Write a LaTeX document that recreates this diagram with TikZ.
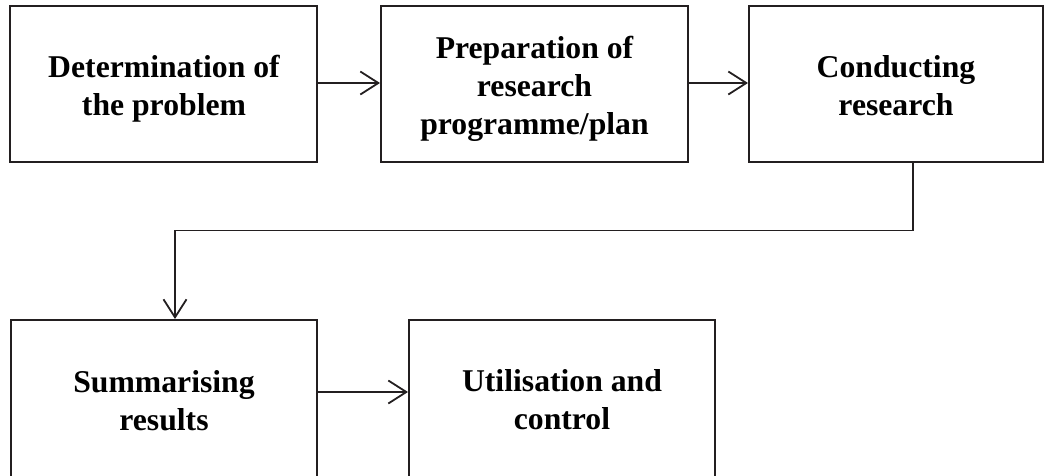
\documentclass[tikz,border=0pt]{standalone}
\usepackage{fontspec}
\setmainfont{Liberation Serif}
\usetikzlibrary{arrows.meta}
\definecolor{linec}{HTML}{231F20}
\tikzset{
  boxnode/.style={draw=linec, line width=2pt, inner sep=0pt, rectangle},
  txt/.style={align=center, inner sep=0pt, font=\fontsize{31.7}{38}\selectfont\bfseries, text=black},
  conn/.style={draw=linec, line width=1.8pt, -{Straight Barb[length=18pt,width=23pt,line width=1.8pt]}}
}
\begin{document}
\begin{tikzpicture}[x=1pt,y=-1pt]
\useasboundingbox (0,0) rectangle (1044,475);
\clip (0,0) rectangle (1044,475);
% boxes
\node[boxnode, minimum width=307pt, minimum height=156pt] (b1) at (163.5,84) {};
\node[boxnode, minimum width=307pt, minimum height=156pt] (b2) at (534.5,84) {};
\node[boxnode, minimum width=294pt, minimum height=156pt] (b3) at (896,84) {};
\node[boxnode, minimum width=306pt, minimum height=164pt] (b4) at (164,402) {};
\node[boxnode, minimum width=306pt, minimum height=164pt] (b5) at (562,402) {};
% texts
\node[txt] (t1) at (164,88.7) {Determination of\\the problem};
\node[txt] (t2) at (534.5,89.2) {Preparation of\\research\\programme/plan};
\node[txt] (t3) at (896,85.8) {Conducting\\research};
\node[txt] (t4) at (164,400.3) {Summarising\\results};
\node[txt] (t5) at (562,399.5) {Utilisation and\\control};
% connectors
\coordinate (c1) at (913,230.5);
\coordinate (c2) at (175,230.5);
\draw[conn] ([yshift=1pt]b1.east) -- ([yshift=1pt]b2.west);
\draw[conn] ([yshift=1pt]b2.east) -- ([yshift=1pt]b3.west);
\draw[conn] (b3.south -| c1) -- (c1) -- (c2) -- (b4.north -| c2);
\draw[conn] ([yshift=10pt]b4.east) -- ([yshift=10pt]b5.west);
\end{tikzpicture}
\end{document}
